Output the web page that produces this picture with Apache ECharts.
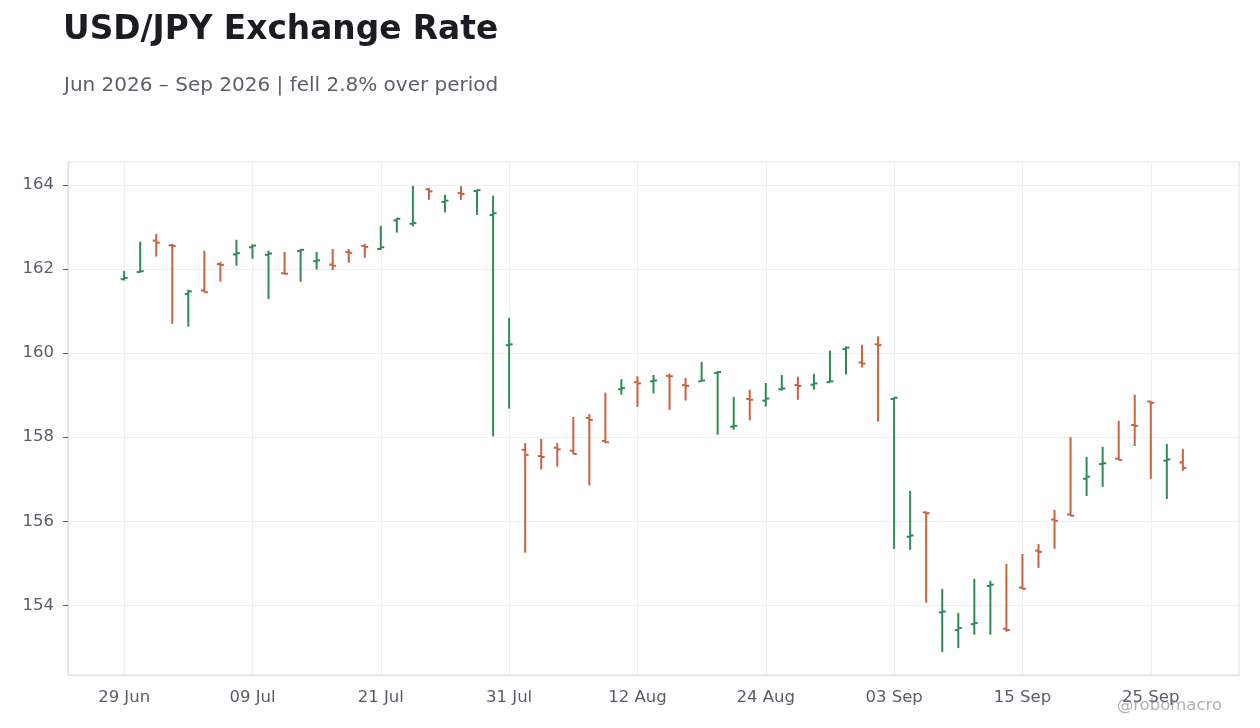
<!DOCTYPE html>
<html>
<head>
<meta charset="utf-8">
<title>USD/JPY Exchange Rate</title>
<script src="https://cdn.jsdelivr.net/npm/echarts@6/dist/echarts.min.js"></script>
<style>
  html, body { margin: 0; padding: 0; background: #fff; }
  #chart { width: 1260px; height: 728px; }
</style>
</head>
<body>
<div id="chart"></div>
<script>
// business days, 29 Jun 2026 - 29 Sep 2026
var dates = [
    '29 Jun', '30 Jun', '01 Jul', '02 Jul', '03 Jul',
    '06 Jul', '07 Jul', '08 Jul', '09 Jul', '10 Jul',
    '13 Jul', '14 Jul', '15 Jul', '16 Jul', '17 Jul',
    '20 Jul', '21 Jul', '22 Jul', '23 Jul', '24 Jul',
    '27 Jul', '28 Jul', '29 Jul', '30 Jul', '31 Jul',
    '03 Aug', '04 Aug', '05 Aug', '06 Aug', '07 Aug',
    '10 Aug', '11 Aug', '12 Aug', '13 Aug', '14 Aug',
    '17 Aug', '18 Aug', '19 Aug', '20 Aug', '21 Aug',
    '24 Aug', '25 Aug', '26 Aug', '27 Aug', '28 Aug',
    '31 Aug', '01 Sep', '02 Sep', '03 Sep', '04 Sep',
    '07 Sep', '08 Sep', '09 Sep', '10 Sep', '11 Sep',
    '14 Sep', '15 Sep', '16 Sep', '17 Sep', '18 Sep',
    '21 Sep', '22 Sep', '23 Sep', '24 Sep', '25 Sep',
    '28 Sep', '29 Sep'
];

var opens = [
    161.76, 161.93, 162.68, 162.57, 161.41, 161.49, 162.12, 162.35, 162.52, 162.34,
    161.90, 162.43, 162.19, 162.11, 162.41, 162.55, 162.48, 163.16, 163.08, 163.90,
    163.60, 163.81, 163.86, 163.29, 160.19, 157.70, 157.55, 157.75, 157.68, 158.46,
    157.91, 159.14, 159.31, 159.33, 159.46, 159.24, 159.33, 159.53, 158.25, 158.91,
    158.87, 159.14, 159.24, 159.25, 159.31, 160.10, 159.78, 160.21, 158.91, 155.63,
    156.21, 153.83, 153.41, 153.55, 154.46, 153.44, 154.42, 155.30, 156.04, 156.16,
    157.01, 157.36, 157.49, 158.29, 158.85, 157.44, 157.40
];
var closes = [
    161.79, 161.95, 162.63, 162.55, 161.47, 161.45, 162.10, 162.38, 162.56, 162.37,
    161.89, 162.46, 162.21, 162.08, 162.39, 162.53, 162.52, 163.20, 163.10, 163.85,
    163.63, 163.79, 163.88, 163.33, 160.21, 157.58, 157.53, 157.71, 157.60, 158.41,
    157.88, 159.17, 159.28, 159.35, 159.45, 159.22, 159.35, 159.55, 158.27, 158.89,
    158.92, 159.16, 159.22, 159.28, 159.33, 160.13, 159.75, 160.19, 158.94, 155.66,
    156.19, 153.85, 153.46, 153.58, 154.49, 153.41, 154.39, 155.27, 156.01, 156.13,
    157.06, 157.38, 157.46, 158.27, 158.82, 157.47, 157.27
];
var lows = [
    161.73, 161.92, 162.30, 160.70, 160.63, 161.45, 161.70, 162.08, 162.25, 161.29,
    161.88, 161.70, 161.99, 161.98, 162.15, 162.27, 162.46, 162.87, 163.02, 163.65,
    163.35, 163.65, 163.29, 158.02, 158.68, 155.25, 157.23, 157.30, 157.60, 156.85,
    157.86, 159.01, 158.72, 159.04, 158.65, 158.87, 159.33, 158.06, 158.18, 158.40,
    158.73, 159.11, 158.89, 159.13, 159.31, 159.49, 159.66, 158.37, 155.34, 155.32,
    154.06, 152.89, 152.98, 153.30, 153.30, 153.37, 154.38, 154.89, 155.34, 156.13,
    156.60, 156.82, 157.46, 157.79, 157.01, 156.53, 157.20
];
var highs = [
    161.96, 162.65, 162.84, 162.60, 161.51, 162.44, 162.17, 162.70, 162.59, 162.44,
    162.41, 162.48, 162.41, 162.48, 162.48, 162.60, 163.03, 163.22, 163.98, 163.93,
    163.77, 163.97, 163.89, 163.75, 160.84, 157.86, 157.96, 157.86, 158.48, 158.55,
    159.06, 159.38, 159.45, 159.48, 159.51, 159.41, 159.79, 159.57, 158.96, 159.13,
    159.29, 159.48, 159.44, 159.51, 160.06, 160.16, 160.20, 160.40, 158.95, 156.72,
    156.23, 154.39, 153.82, 154.63, 154.58, 154.98, 155.22, 155.46, 156.27, 158.00,
    157.53, 157.77, 158.39, 159.01, 158.85, 157.84, 157.72
];

var upColor = '#2e8b57';
var downColor = '#c8623f';
var pad = 3; // empty slots each side of the bars

var chartDom = document.getElementById('chart');
var chart = echarts.init(chartDom);

function buildCategories() {
    var cats = [];
    var i;
    for (i = 0; i < pad; i++) cats.push('');
    for (i = 0; i < dates.length; i++) cats.push(dates[i]);
    for (i = 0; i < pad; i++) cats.push('');
    return cats;
}

function buildData() {
    var d = [];
    for (var i = 0; i < dates.length; i++) {
        d.push([i + pad, opens[i], closes[i], lows[i], highs[i]]);
    }
    return d;
}

function showDateTick(index) {
    var k = index - pad;
    return k >= 0 && k < dates.length && k % 8 === 0;
}

function renderOhlc(params, api) {
    var x = api.value(0);
    var o = api.coord([x, api.value(1)]);
    var c = api.coord([x, api.value(2)]);
    var l = api.coord([x, api.value(3)]);
    var h = api.coord([x, api.value(4)]);
    var color = api.value(2) >= api.value(1) ? upColor : downColor;
    var w = 3.5;
    var st = { stroke: color, lineWidth: 2 };
    return {
        type: 'group',
        children: [
            { type: 'line', shape: { x1: h[0], y1: h[1], x2: l[0], y2: l[1] }, style: st },
            { type: 'line', shape: { x1: o[0] - w, y1: o[1], x2: o[0], y2: o[1] }, style: st },
            { type: 'line', shape: { x1: c[0], y1: c[1], x2: c[0] + w, y2: c[1] }, style: st }
        ]
    };
}

var labelColor = '#5a5c68';
var font = 'DejaVu Sans';

var option = {
    backgroundColor: '#ffffff',
    animation: false,
    title: [
        {
            text: 'USD/JPY Exchange Rate',
            left: 58,
            top: 9,
            textStyle: { fontFamily: font, fontSize: 32.8, fontWeight: 'bold', color: '#1b1b22' }
        },
        {
            text: 'Jun 2026 \u2013 Sep 2026 | fell 2.8% over period',
            left: 59,
            top: 71,
            textStyle: { fontFamily: font, fontSize: 20, fontWeight: 'normal', color: '#5e5e68' }
        }
    ],
    graphic: [
        {
            type: 'text',
            right: 38,
            bottom: 14,
            style: { text: '@robomacro', fontFamily: font, fontSize: 16.5, fill: '#b0b0b8' }
        }
    ],
    grid: {
        left: 68,
        right: 21,
        top: 162,
        bottom: 53,
        show: true,
        borderColor: '#dedee3',
        borderWidth: 1
    },
    xAxis: {
        type: 'category',
        data: buildCategories(),
        boundaryGap: true,
        axisLine: { lineStyle: { color: '#dedee3' } },
        axisTick: {
            alignWithLabel: true,
            length: 5,
            interval: function (i) { return showDateTick(i); },
            lineStyle: { color: '#55555f' }
        },
        axisLabel: {
            interval: function (i) { return showDateTick(i); },
            margin: 14,
            color: labelColor,
            fontFamily: font,
            fontSize: 16.5
        },
        splitLine: {
            show: true,
            alignWithLabel: true,
            interval: function (i) { return showDateTick(i); },
            lineStyle: { color: '#efeff2', width: 1 }
        }
    },
    yAxis: {
        type: 'value',
        min: 152.34,
        max: 164.55,
        axisLine: { show: true, lineStyle: { color: '#dedee3' } },
        axisTick: { show: true, length: 5, lineStyle: { color: '#55555f' } },
        axisLabel: {
            showMinLabel: false,
            showMaxLabel: false,
            margin: 14,
            color: labelColor,
            fontFamily: font,
            fontSize: 16.5
        },
        splitLine: { show: true, lineStyle: { color: '#efeff2', width: 1 } }
    },
    series: [
        {
            name: 'USD/JPY',
            type: 'custom',
            renderItem: renderOhlc,
            encode: { x: 0, y: [1, 2, 3, 4] },
            data: buildData()
        }
    ]
};

chart.setOption(option);
</script>
</body>
</html>
